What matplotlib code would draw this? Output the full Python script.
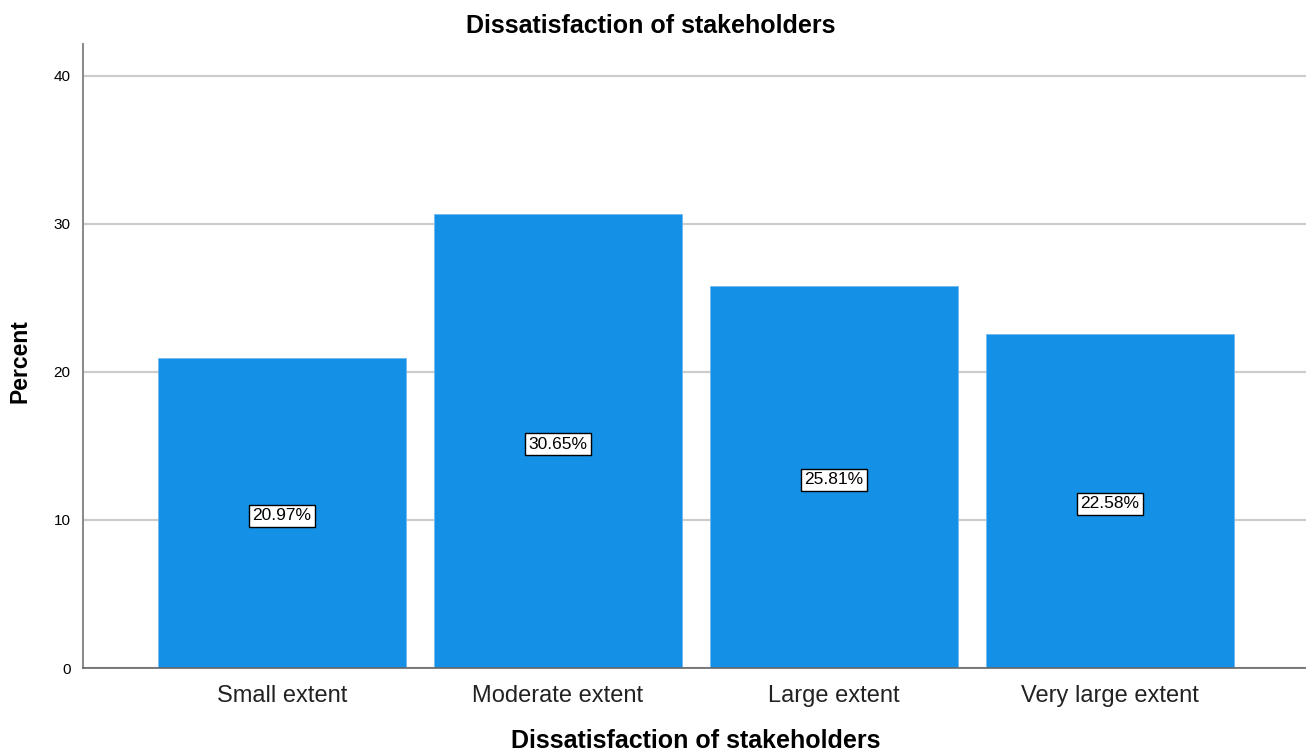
import matplotlib
matplotlib.use('Agg')
import matplotlib.pyplot as plt

categories = ['Small extent', 'Moderate extent', 'Large extent', 'Very large extent']
percents = [20.97, 30.65, 25.81, 22.58]
yticks = [0, 10, 20, 30, 40]

plt.rcParams['font.family'] = ['Liberation Sans', 'DejaVu Sans']

fig = plt.figure(figsize=(13.06, 7.53), dpi=100)
ax = fig.add_axes([83 / 1306, 85 / 753, 1 - 83 / 1306, (668 - 44) / 753])

x = range(len(categories))
ax.bar(x, percents, width=0.9, color='#1490e6', edgecolor='#6fb8ef', linewidth=0.6, zorder=2)

# value labels in the middle of each bar
for i, v in enumerate(percents):
    ax.text(i, v / 2 - 0.2, f'{v:.2f}%', ha='center', va='center', fontsize=12.5,
            bbox=dict(boxstyle='square,pad=0.2', facecolor='white', edgecolor='black', linewidth=1.0),
            zorder=3)

ax.set_xlim(-0.721, 3.71)
ax.set_ylim(0, 42.16)
ax.set_yticks(yticks)
ax.set_xticks(list(x))
ax.set_xticklabels(categories, fontsize=17, color='#222222')
ax.tick_params(axis='x', length=0, pad=12)
ax.tick_params(axis='y', length=0, pad=9, labelsize=11)
ax.yaxis.grid(True, color='#cccccc', linewidth=1.6, zorder=0)

for s in ['top', 'right']:
    ax.spines[s].set_visible(False)
ax.spines['left'].set_color('#888888')
ax.spines['left'].set_linewidth(1.4)
ax.spines['bottom'].set_color('#666666')
ax.spines['bottom'].set_linewidth(1.2)

fig.text(651 / 1306, 1 - 33 / 753, 'Dissatisfaction of stakeholders',
         ha='center', va='baseline', fontsize=18, fontweight='bold')
fig.text(696 / 1306, 0.5 / 753, 'Dissatisfaction of stakeholders',
         ha='center', va='bottom', fontsize=18, fontweight='bold')
fig.text(20 / 1306, 1 - 361 / 753, 'Percent', rotation=90,
         ha='center', va='center', fontsize=16.5, fontweight='bold')

fig.savefig('out.png', dpi=100)
